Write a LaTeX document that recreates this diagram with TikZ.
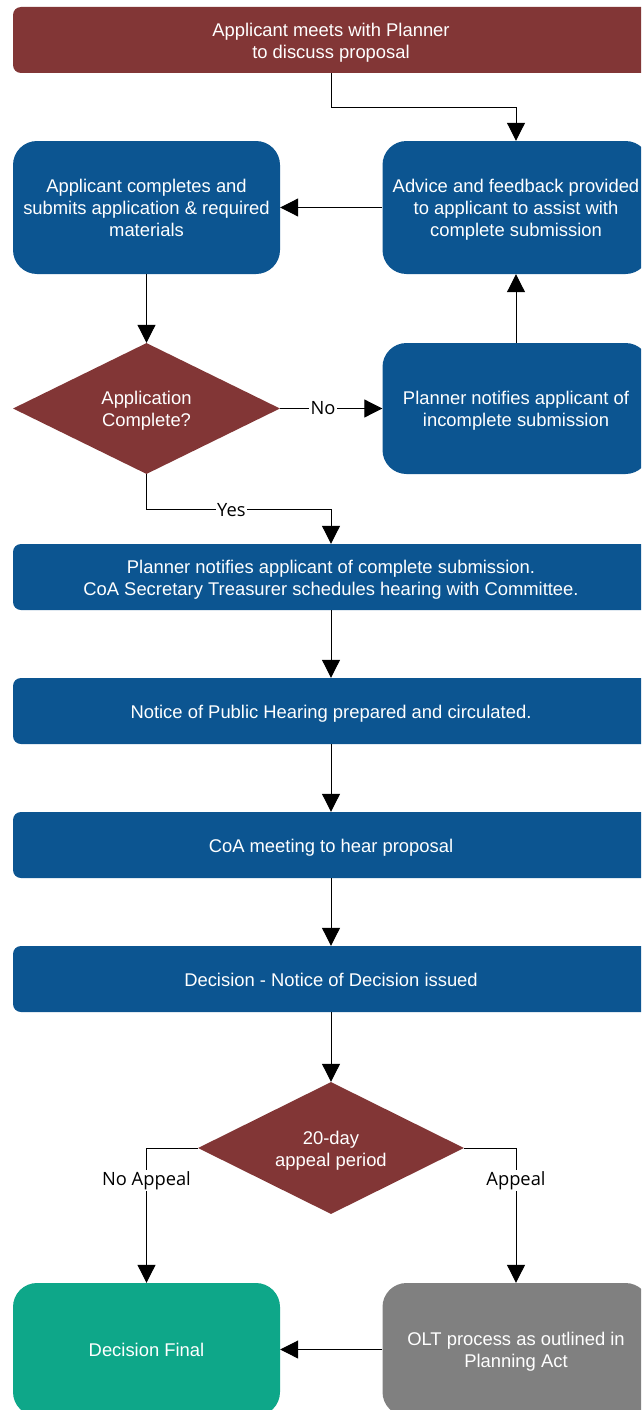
\documentclass[tikz,border=0pt]{standalone}
\usepackage{fontspec}
\setmainfont{Liberation Sans}
\newfontfamily\lblfont{Open Sans}
\usetikzlibrary{shapes.geometric,arrows.meta,calc}
\definecolor{cred}{RGB}{130,54,54}
\definecolor{cblue}{RGB}{12,85,145}
\definecolor{cgreen}{RGB}{14,167,137}
\definecolor{cgray}{RGB}{128,128,128}
\newcommand\tx[1]{\raisebox{-3pt}[\height][\depth]{\begin{tabular}{@{}c@{}}#1\end{tabular}}}
\begin{document}
\begin{tikzpicture}[x=1pt,y=-1pt,
  every node/.style={font=\fontsize{18.4}{22}\selectfont},
  widebox/.style={fill=cblue, text=white, inner sep=0pt,
    minimum width=636pt, minimum height=66pt, rounded corners=8pt},
  sidebox/.style={fill=cblue, text=white, inner sep=0pt,
    minimum width=267pt, minimum height=133pt, rounded corners=24pt},
  dec/.style={diamond, aspect=2, fill=cred, text=white, inner sep=0pt,
    minimum width=267pt, minimum height=131pt},
  arr/.style={draw=black, line width=1pt, -{Triangle[length=18pt,width=18pt]}},
  lab/.style={fill=white, inner sep=1.5pt, text=black,
    font=\lblfont\fontsize{18.3}{21}\selectfont}
]
\clip (0,0) rectangle (641,1410);
\fill[white] (0,0) rectangle (641,1410);

\node[widebox, fill=cred] (top) at (331,40) {\tx{Applicant meets with Planner\\to discuss proposal}};
\node[sidebox] (app) at (146.5,207.5) {\tx{Applicant completes and\\submits application \& required\\materials}};
\node[sidebox] (adv) at (516,207.5) {\tx{Advice and feedback provided\\to applicant to assist with\\complete submission}};
\node[dec] (dia) at (146.5,408.5) {\tx{Application\\Complete?}};
\node[sidebox, minimum height=131pt] (inc) at (516,408.5) {\tx{Planner notifies applicant of\\incomplete submission}};
\node[widebox] (b1) at (331,577) {\tx{Planner notifies applicant of complete submission.\\CoA Secretary Treasurer schedules hearing with Committee.}};
\node[widebox] (b2) at (331,711) {\tx{Notice of Public Hearing prepared and circulated.}};
\node[widebox] (b3) at (331,845) {\tx{CoA meeting to hear proposal}};
\node[widebox] (b4) at (331,979) {\tx{Decision - Notice of Decision issued}};
\node[dec, minimum width=266pt, minimum height=132pt] (d2) at (331,1148) {\tx{20-day\\appeal period}};
\node[sidebox, fill=cgreen] (fin) at (146.5,1349.5) {\tx{Decision Final}};
\node[sidebox, fill=cgray] (olt) at (516,1349.5) {\tx{OLT process as outlined in\\Planning Act}};

\draw[arr] (top.south) -- ++(0,34) -| (adv.north);
\draw[arr] (adv.west) -- (app.east);
\draw[arr] (app.south) -- (dia.north);
\draw[arr] (dia.east) -- node[lab, pos=0.42]{No} (inc.west);
\draw[arr] (inc.north) -- (adv.south);
\draw[arr] (dia.south) |- node[lab, pos=0.73]{Yes} ($(b1.north)+(0,-34)$) -- (b1.north);
\draw[arr] (b1.south) -- (b2.north);
\draw[arr] (b2.south) -- (b3.north);
\draw[arr] (b3.south) -- (b4.north);
\draw[arr] (b4.south) -- (d2.north);
\draw[arr] (d2.west) -| node[lab, pos=0.62]{No Appeal} (fin.north);
\draw[arr] (d2.east) -| node[lab, pos=0.62]{Appeal} (olt.north);
\draw[arr] (olt.west) -- (fin.east);
\end{tikzpicture}
\end{document}
